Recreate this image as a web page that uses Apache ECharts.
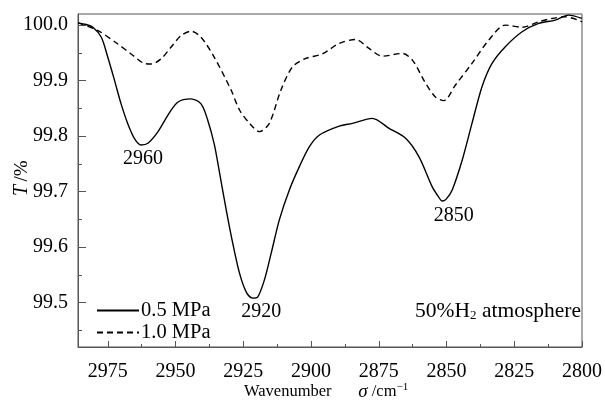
<!DOCTYPE html>
<html>
<head>
<meta charset="utf-8">
<script src="https://cdn.jsdelivr.net/npm/echarts@6/dist/echarts.min.js"></script>
<style>html,body{margin:0;padding:0;background:#fff}#c{width:605px;height:405px}</style>
</head>
<body>
<div id="c"></div>
<script>
// ---- data ----
const wn05 = [2986, 2983, 2980.5, 2977.4, 2975, 2972.5, 2970.1, 2967.6, 2965.1, 2962.7, 2960.2, 2956.6, 2952.9, 2949.2, 2944.3, 2940.6, 2938.2, 2935.7, 2933.8, 2931.3, 2928.9, 2926.4, 2923.9, 2921.5, 2919.7, 2917.2, 2914.7, 2911.7, 2908, 2904.3, 2900.6, 2896.9, 2889.6, 2884.7, 2877.4, 2871.2, 2865.1, 2860.2, 2855.3, 2853, 2851.6, 2850.2, 2847.9, 2844.2, 2840.6, 2836.9, 2833.2, 2828.3, 2822.1, 2816, 2809.9, 2805, 2800];
const t05  = [100.004, 100.001, 99.996, 99.978, 99.942, 99.9, 99.858, 99.822, 99.795, 99.784, 99.787, 99.807, 99.837, 99.861, 99.867, 99.858, 99.83, 99.785, 99.735, 99.667, 99.607, 99.553, 99.519, 99.508, 99.51, 99.541, 99.589, 99.649, 99.703, 99.745, 99.781, 99.802, 99.818, 99.823, 99.832, 99.814, 99.796, 99.763, 99.709, 99.691, 99.683, 99.686, 99.703, 99.757, 99.823, 99.889, 99.931, 99.961, 99.988, 100.003, 100.009, 100.018, 100.012];
const wn10 = [2986, 2978.6, 2971.3, 2966.4, 2961.5, 2959, 2955.4, 2951.7, 2948, 2944.3, 2940.6, 2935.7, 2929.5, 2926.4, 2922.7, 2919, 2915.4, 2911.1, 2906.8, 2901.9, 2895.8, 2889.6, 2883.5, 2878.6, 2873.7, 2866.3, 2862.6, 2857.7, 2854, 2851, 2846.7, 2840.6, 2834.4, 2828.3, 2822.1, 2816, 2811.1, 2806.2, 2800];
const t10  = [100.004, 99.99, 99.966, 99.948, 99.931, 99.93, 99.939, 99.96, 99.981, 99.989, 99.978, 99.942, 99.883, 99.847, 99.823, 99.808, 99.823, 99.883, 99.925, 99.94, 99.948, 99.967, 99.974, 99.958, 99.944, 99.949, 99.937, 99.895, 99.87, 99.864, 99.892, 99.931, 99.973, 100.0, 99.996, 100.006, 100.012, 100.015, 100.006];
const seriesNames = ['0.5 MPa', '1.0 MPa'];
const xMinor = [2812.5, 2837.5, 2862.5, 2887.5, 2912.5, 2937.5, 2962.5];
const yMajor = [99.5, 99.6, 99.7, 99.8, 99.9, 100.0];
const yMinor = [99.45, 99.55, 99.65, 99.75, 99.85, 99.95];
const peakText = ['2960', '2920', '2850'];
const peakWn = [2962, 2918.4, 2847.3];
const peakT = [99.760, 99.483, 99.656];
const xMin = 2800, xMax = 2986, xStep = 25, yMin = 99.42, yMax = 100.02;

const FONT = '"Liberation Serif", "Times New Roman", serif';
const AX = '#555';
const richLbl = {r:{fontFamily:FONT, fontSize:20, color:'#000'}};
const chart = echarts.init(document.getElementById('c'));
const xBase = {type:'value', inverse:true, min:xMin, max:xMax, position:'bottom', splitLine:{show:false}};
const yBase = {type:'value', min:yMin, max:yMax, position:'left', splitLine:{show:false}};
chart.setOption({
  animation:false,
  backgroundColor:'#fff',
  textStyle:{fontFamily:FONT, color:'#000'},
  grid:{left:78, top:14, right:22, bottom:58, show:true, borderColor:AX, borderWidth:1, backgroundColor:'transparent'},
  xAxis:[
    Object.assign({}, xBase, {
      interval:xStep,
      axisLine:{lineStyle:{color:AX, width:1}},
      axisTick:{inside:true, length:6, lineStyle:{color:AX}},
      axisLabel:{showMaxLabel:false, margin:15, color:'#000', fontSize:20, fontFamily:FONT, rich:richLbl, formatter:v=>'{r|' + v + '}'}
    }),
    Object.assign({}, xBase, {
      axisLine:{show:false},
      axisTick:{inside:true, length:3, customValues:xMinor, lineStyle:{color:AX}},
      axisLabel:{show:false}
    })
  ],
  yAxis:[
    Object.assign({}, yBase, {
      axisLine:{show:true, lineStyle:{color:AX, width:1}},
      axisTick:{show:true, inside:true, length:8, customValues:yMajor, lineStyle:{color:AX}},
      axisLabel:{customValues:yMajor, margin:10, color:'#000', fontSize:20, fontFamily:FONT, rich:richLbl, formatter:v=>'{r|' + Number(v).toFixed(1) + '}'}
    }),
    Object.assign({}, yBase, {
      axisLine:{show:false},
      axisTick:{show:true, inside:true, length:4, customValues:yMinor, lineStyle:{color:AX}},
      axisLabel:{show:false}
    })
  ],
  legend:{
    orient:'vertical', left:91, top:295, itemWidth:42, itemHeight:14, itemGap:1,
    data:seriesNames,
    itemStyle:{opacity:0},
    textStyle:{color:'#000', fontSize:20.5, fontFamily:FONT, padding:[0,0,0,-3]}
  },
  series:[
    {name:seriesNames[0], type:'line', smooth:0.3, symbol:'none', xAxisIndex:0, yAxisIndex:0,
     lineStyle:{color:'#000', width:1.4, type:'solid'}, itemStyle:{color:'#000'},
     data:wn05.map((w,i)=>[w, t05[i]])},
    {name:seriesNames[1], type:'line', smooth:0.3, symbol:'none', xAxisIndex:0, yAxisIndex:0,
     lineStyle:{color:'#000', width:1.4, type:[6,4]}, itemStyle:{color:'#000'},
     data:wn10.map((w,i)=>[w, t10[i]])},
    {type:'scatter', symbolSize:0, xAxisIndex:0, yAxisIndex:0, silent:true,
     itemStyle:{opacity:1, color:'#000'},
     label:{show:true, position:'inside', formatter:p=>p.data[2], color:'#000', opacity:1, textBorderWidth:0, fontSize:20, fontFamily:FONT},
     data:peakWn.map((w,i)=>[w, peakT[i], peakText[i]])}
  ],
  graphic:[
    {type:'text', left:244, top:382, style:{
      text:'{a|Wavenumber}        {s|σ}{a| /cm}{u|−1}',
      rich:{a:{fontSize:16.5, fontFamily:FONT, fill:'#000'}, s:{fontSize:19, fontFamily:FONT, fontStyle:'italic', fill:'#000'}, u:{fontSize:11, fontFamily:FONT, fill:'#000', padding:[0,0,9,0]}}
    }},
    {type:'text', x:12, y:196, rotation:Math.PI/2, style:{
      text:'{t|T} {a|/%}',
      rich:{t:{fontSize:20, fontFamily:FONT, fontStyle:'italic', fill:'#000'}, a:{fontSize:19, fontFamily:FONT, fill:'#000'}}
    }},
    {type:'text', right:24, top:300, style:{
      text:'{a|50%H}{b|2}{a| atmosphere}',
      rich:{a:{fontSize:21.5, fontFamily:FONT, fill:'#000'}, b:{fontSize:13, fontFamily:FONT, fill:'#000', padding:[10,0,0,0]}}
    }}
  ]
});
</script>
</body>
</html>
